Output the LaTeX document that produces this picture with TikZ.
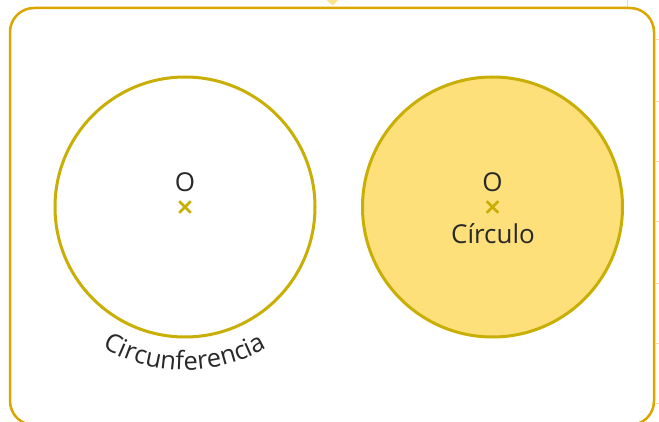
\documentclass[tikz,border=0pt]{standalone}
\usepackage{fontspec}
\setmainfont{Open Sans}
\usetikzlibrary{decorations.text,shapes.misc}
\definecolor{frameC}{RGB}{219,166,0}
\definecolor{ringC}{RGB}{201,174,6}
\definecolor{fillC}{RGB}{253,224,122}
\definecolor{textC}{RGB}{40,40,40}
\definecolor{tickC}{RGB}{253,214,178}
\definecolor{chevC}{RGB}{255,228,140}
\tikzset{
  ring/.style={circle, draw=ringC, line width=3pt, minimum size=260pt, inner sep=0pt},
  lbl/.style={text=textC, font=\fontsize{26}{26}\selectfont, inner sep=0pt},
  xmark/.style={cross out, draw=ringC, line width=2.6pt, minimum size=9pt, inner sep=0pt},
  tick/.style={tickC, line width=1pt}
}
\begin{document}
\begin{tikzpicture}[x=1pt,y=1pt]
\useasboundingbox (0,0) rectangle (659,421);
% background ticks
\foreach \yy in {40,102,162,222,283,343,403} \draw[tick] (655.5,421-\yy) -- (659,421-\yy);
\draw[tick] (627,421) -- (627,413);
\fill[chevC] (326.5,421) -- (338.5,421) -- (332.5,415.5) -- cycle;
% frame
\node[draw=frameC, line width=2.5pt, rounded corners=24pt, minimum width=644pt, minimum height=417pt, inner sep=0pt] (frame) at (332,204.5) {};
% circles
\node[ring] (c1) at (185,214) {};
\node[ring, fill=fillC] (c2) at (492.5,214) {};
% centers
\node[xmark] (x1) at (185,214) {};
\node[xmark] (x2) at (492.5,214) {};
\node[lbl] (o1) at (185,238.5) {O};
\node[lbl] (o2) at (492.5,238.5) {O};
\node[lbl] (circ) at (493,187) {Círculo};
% curved label
\path[decorate, decoration={text along path, text align=center,
  text={|\fontsize{25.5}{25.5}\selectfont\color{textC}|Circunferencia}}]
  (185,214) ++(228:163) arc[start angle=228, end angle=312, radius=163];
\end{tikzpicture}
\end{document}
